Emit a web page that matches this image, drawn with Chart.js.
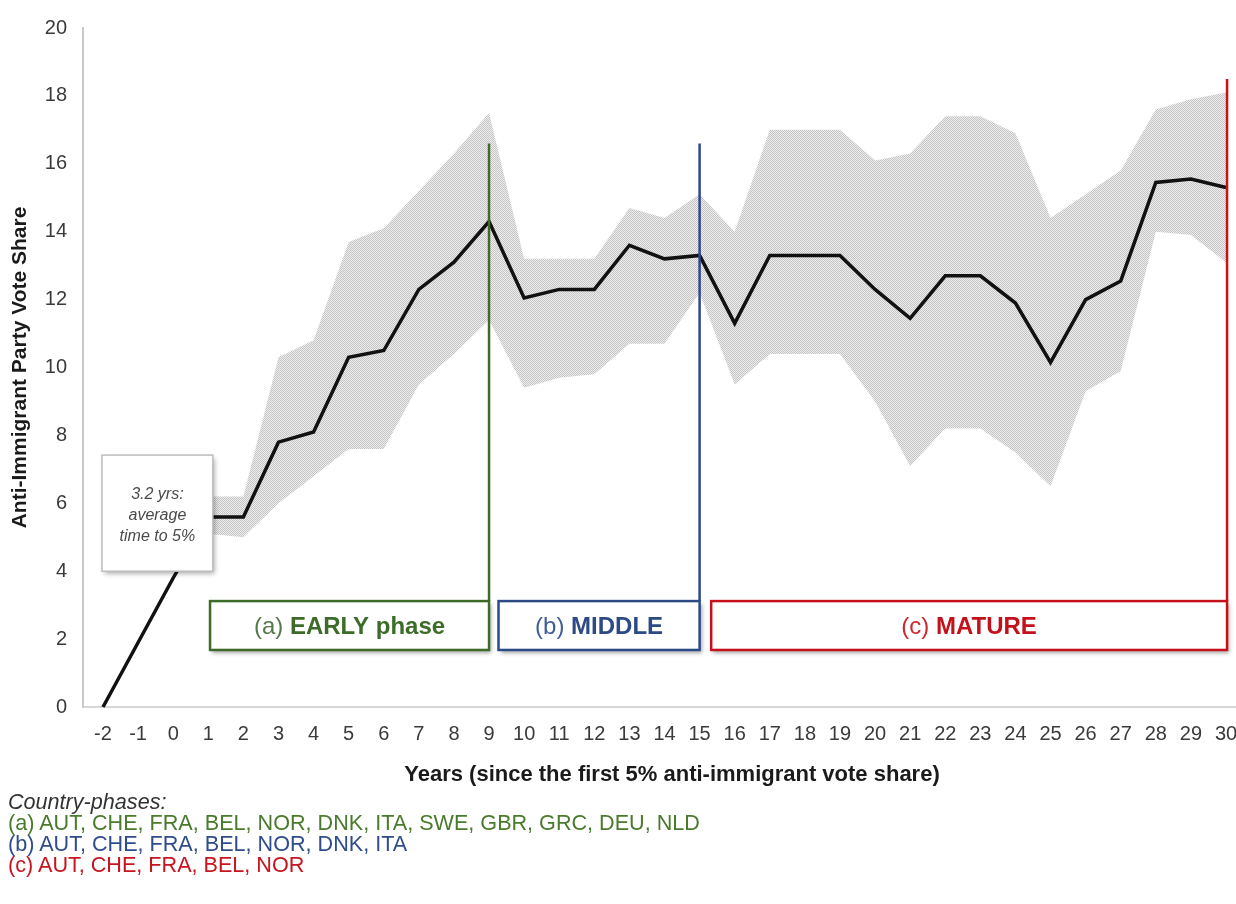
<!DOCTYPE html>
<html>
<head>
<meta charset="utf-8">
<script src="https://cdn.jsdelivr.net/npm/chart.js@4"></script>
<style>
  html, body { margin: 0; padding: 0; background: #fff; }
  #wrap { position: relative; width: 1236px; height: 904px; overflow: hidden; }
  canvas { position: absolute; left: 0; top: 0; }
  .txt { position: absolute; white-space: nowrap; font-family: 'Liberation Sans', Arial, sans-serif; }
  #xtitle { left: 0; width: 1344px; top: 762px; text-align: center; font-weight: bold; font-size: 22px; line-height: 24px; color: #1a1a1a; }
  #foot { left: 8px; top: 791px; font-size: 21.6px; line-height: 21px; }
  #foot .h { font-style: italic; color: #333; }
  #foot .a { color: #4a7a2c; }
  #foot .b { color: #2f4d8c; }
  #foot .c { color: #c8141e; }
</style>
</head>
<body>
<div id="wrap">
  <canvas id="c" width="1236" height="904"></canvas>
  <div class="txt" id="xtitle">Years (since the first 5% anti-immigrant vote share)</div>
  <div class="txt" id="foot">
    <div class="h">Country-phases:</div>
    <div class="a">(a) AUT, CHE, FRA, BEL, NOR, DNK, ITA, SWE, GBR, GRC, DEU, NLD</div>
    <div class="b">(b) AUT, CHE, FRA, BEL, NOR, DNK, ITA</div>
    <div class="c">(c) AUT, CHE, FRA, BEL, NOR</div>
  </div>
</div>
<script>
// ---- data ----
const years = [-2,-1,0,1,2,3,4,5,6,7,8,9,10,11,12,13,14,15,16,17,18,19,20,21,22,23,24,25,26,27,28,29,30];
const meanShare = [0,1.9,3.8,5.6,5.6,7.8,8.1,10.3,10.5,12.3,13.1,14.3,12.05,12.3,12.3,13.6,13.2,13.3,11.3,13.3,13.3,13.3,12.3,11.45,12.7,12.7,11.9,10.15,12.0,12.55,15.45,15.55,15.3];
const upperBand = [null,null,null,6.2,6.2,10.3,10.8,13.7,14.1,15.2,16.3,17.5,13.2,13.2,13.2,14.7,14.4,15.1,14.0,17.0,17.0,17.0,16.1,16.3,17.4,17.4,16.9,14.4,15.1,15.8,17.6,17.9,18.1];
const lowerBand = [null,null,null,5.1,5.0,6.0,6.8,7.6,7.6,9.5,10.4,11.4,9.4,9.7,9.8,10.7,10.7,12.2,9.5,10.4,10.4,10.4,9.0,7.1,8.2,8.2,7.5,6.5,9.3,9.9,14.0,13.9,13.1];
const xTickValues = years;
const yTickValues = [0,2,4,6,8,10,12,14,16,18,20];

const phaseTags = ['(a) ', '(b) ', '(c) '];
const phaseNames = ['EARLY phase', 'MIDDLE', 'MATURE'];
const phaseStart = [1.05, 9.27, 15.33];
const phaseEnd = [9, 15, 30.03];
const phaseLineTop = [16.6, 16.6, 18.5];
const phaseBoxLow = 1.68, phaseBoxHigh = 3.12;
const phaseColors = ['#3d6b29', '#2c4a86', '#c4111b'];
const phaseTagColors = ['#55794a', '#3f5d96', '#d0262e'];

const noteLines = ['3.2 yrs:', 'average', 'time to 5%'];
const noteX = [-2.03, 1.13];
const noteY = [4.0, 7.42];

const FONT = "'Liberation Sans', Arial, sans-serif";

// hatch pattern for the band
function makePattern() {
  const p = document.createElement('canvas');
  p.width = 4; p.height = 4;
  const g = p.getContext('2d');
  g.fillStyle = '#eeeeee'; g.fillRect(0, 0, 4, 4);
  g.fillStyle = '#c4c4c4';
  for (let y = 0; y < 4; y++) for (let x = 0; x < 4; x++) if ((x + y) % 2 === 0) g.fillRect(x, y, 1, 1);
  return g.createPattern(p, 'repeat');
}

const annot = {
  id: 'annot',
  afterDatasetsDraw(chart) {
    const ctx = chart.ctx, xs = chart.scales.x, ys = chart.scales.y;
    ctx.save();
    for (let i = 0; i < phaseNames.length; i++) {
      const x0 = xs.getPixelForValue(phaseStart[i]);
      const x1 = xs.getPixelForValue(phaseEnd[i]);
      const yTop = ys.getPixelForValue(phaseBoxHigh);
      const yBot = ys.getPixelForValue(phaseBoxLow);
      const yLine = ys.getPixelForValue(phaseLineTop[i]);
      ctx.save();
      ctx.shadowColor = 'rgba(0,0,0,0.35)';
      ctx.shadowBlur = 4; ctx.shadowOffsetX = 2; ctx.shadowOffsetY = 3;
      ctx.fillStyle = '#fff';
      ctx.fillRect(x0, yTop, x1 - x0, yBot - yTop);
      ctx.restore();
      ctx.strokeStyle = phaseColors[i];
      ctx.lineWidth = 2.5;
      ctx.strokeRect(x0, yTop, x1 - x0, yBot - yTop);
      ctx.beginPath();
      ctx.moveTo(x1, yLine); ctx.lineTo(x1, yTop);
      ctx.stroke();
      ctx.font = "24px " + FONT;
      const w1 = ctx.measureText(phaseTags[i]).width;
      ctx.font = "bold 24px " + FONT;
      const w2 = ctx.measureText(phaseNames[i]).width;
      const cx = (x0 + x1) / 2, cy = (yTop + yBot) / 2 + 2;
      const tx = cx - (w1 + w2) / 2;
      ctx.textBaseline = 'middle'; ctx.textAlign = 'left';
      ctx.font = "24px " + FONT; ctx.fillStyle = phaseTagColors[i];
      ctx.fillText(phaseTags[i], tx, cy);
      ctx.font = "bold 24px " + FONT; ctx.fillStyle = phaseColors[i];
      ctx.fillText(phaseNames[i], tx + w1, cy);
    }
    const nx0 = xs.getPixelForValue(noteX[0]), nx1 = xs.getPixelForValue(noteX[1]);
    const ny0 = ys.getPixelForValue(noteY[1]), ny1 = ys.getPixelForValue(noteY[0]);
    ctx.save();
    ctx.shadowColor = 'rgba(0,0,0,0.35)';
    ctx.shadowBlur = 5; ctx.shadowOffsetX = 2; ctx.shadowOffsetY = 3;
    ctx.fillStyle = '#fff';
    ctx.fillRect(nx0, ny0, nx1 - nx0, ny1 - ny0);
    ctx.restore();
    ctx.strokeStyle = '#bdbdbd'; ctx.lineWidth = 1.5;
    ctx.strokeRect(nx0, ny0, nx1 - nx0, ny1 - ny0);
    ctx.fillStyle = '#4a4a4a';
    ctx.font = "italic 16px " + FONT;
    ctx.textAlign = 'center'; ctx.textBaseline = 'middle';
    const ncx = (nx0 + nx1) / 2, ncy = (ny0 + ny1) / 2;
    noteLines.forEach((t, k) => ctx.fillText(t, ncx, ncy + (k - 1) * 21 + 2));
    ctx.restore();
  }
};

new Chart(document.getElementById('c'), {
  type: 'line',
  data: {
    labels: years,
    datasets: [
      { label: 'upper', data: years.map((x, i) => ({x, y: upperBand[i]})), borderWidth: 0, pointRadius: 0, fill: '+1', backgroundColor: makePattern(), order: 3 },
      { label: 'lower', data: years.map((x, i) => ({x, y: lowerBand[i]})), borderWidth: 0, pointRadius: 0, fill: false, order: 2 },
      { label: 'mean', data: years.map((x, i) => ({x, y: meanShare[i]})), borderColor: '#111', borderWidth: 3.5, pointRadius: 0, fill: false, tension: 0, borderJoinStyle: 'miter', clip: false, order: 1 }
    ]
  },
  options: {
    responsive: false,
    devicePixelRatio: 1,
    animation: false,
    events: [],
    layout: { padding: { top: 28, left: 0, right: 0, bottom: 0 } },
    plugins: { legend: { display: false }, tooltip: { enabled: false } },
    scales: {
      x: {
        type: 'linear', min: -2.57, max: 30.285,
        grid: { display: false },
        border: { display: true, color: '#d6d6d6', width: 2 },
        afterBuildTicks: s => { s.ticks = xTickValues.map(v => ({ value: v })); },
        afterFit: s => { s.height = 197; s.paddingLeft = 0; s.paddingRight = 0; },
        ticks: { color: '#3a3a3a', padding: 7, maxRotation: 0, autoSkip: false, font: { family: FONT, size: 20 } }
      },
      y: {
        min: 0, max: 20,
        grid: { display: false },
        border: { display: true, color: '#c9c9c9', width: 2 },
        afterBuildTicks: s => { s.ticks = yTickValues.map(v => ({ value: v })); },
        afterFit: s => { s.width = 83; s.paddingTop = 0; s.paddingBottom = 0; },
        ticks: { color: '#3a3a3a', padding: 8, font: { family: FONT, size: 20 } },
        title: { display: true, text: 'Anti-Immigrant Party Vote Share', color: '#1a1a1a', padding: { top: 8, bottom: 0 }, font: { family: FONT, size: 21, weight: 'bold' } }
      }
    }
  },
  plugins: [annot]
});
</script>
</body>
</html>
